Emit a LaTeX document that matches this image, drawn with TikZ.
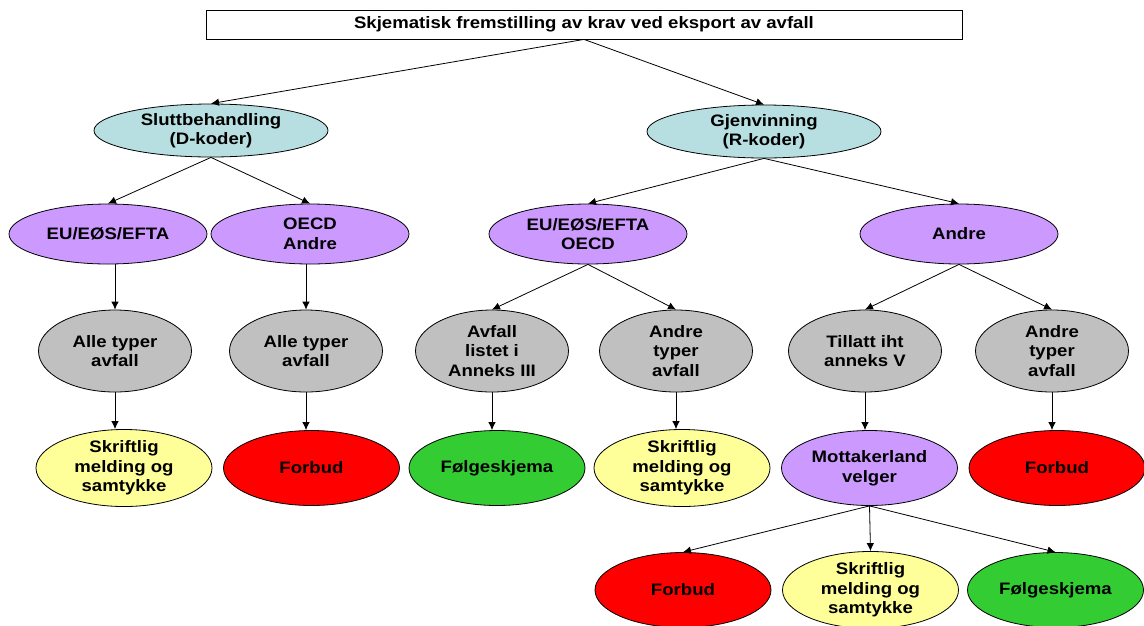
\documentclass[tikz,border=0pt]{standalone}
\usepackage{fontspec}
\setmainfont{Liberation Sans}[FakeStretch=1.12]
\usetikzlibrary{shapes.geometric,arrows.meta}
\definecolor{lblue}{HTML}{B7DFE1}
\definecolor{lpurple}{HTML}{CC99FF}
\definecolor{lgray}{HTML}{C0C0C0}
\definecolor{lyellow}{HTML}{FFFF99}
\definecolor{lred}{HTML}{FF0000}
\definecolor{lgreen}{HTML}{33CC33}
\begin{document}
\begin{tikzpicture}[x=1pt,y=-1pt,
  every node/.style={font=\bfseries\fontsize{16.6}{19.5}\selectfont, align=center, inner sep=0pt},
  ell/.style={ellipse, draw=black, line width=0.8pt},
  lvlA/.style={ell, fill=lblue, minimum width=234pt, minimum height=53pt},
  lvlB/.style={ell, fill=lpurple, minimum width=198pt, minimum height=60pt},
  lvlC/.style={ell, fill=lgray, minimum width=153pt, minimum height=82pt},
  lvlD/.style={ell, minimum width=176pt, minimum height=75pt},
  arr/.style={draw=black, line width=0.8pt, -{Latex[length=8pt,width=7.5pt]}}
]
\useasboundingbox (0,0) rectangle (1144,625);

\node[draw=black, line width=0.8pt, minimum width=756pt, minimum height=29pt] (title) at (584,24.5) {Skjematisk fremstilling av krav ved eksport av avfall};

\node[lvlA] (slutt) at (211,130.5) {Sluttbehandling\\(D-koder)};
\node[lvlA] (gjen) at (764,131.5) {Gjenvinning\\(R-koder)};

\node[lvlB] (eu1) at (108,234) {EU/EØS/EFTA};
\node[lvlB] (oecd1) at (310,234) {OECD\\Andre};
\node[lvlB] (eu2) at (588,234) {EU/EØS/EFTA\\OECD};
\node[lvlB] (andre) at (959,234) {Andre};

\node[lvlC] (alle1) at (115,351) {Alle typer\\avfall};
\node[lvlC] (alle2) at (306,351) {Alle typer\\avfall};
\node[lvlC] (avfall) at (492,351) {Avfall\\listet i\\Anneks III};
\node[lvlC] (andret1) at (676,351) {Andre\\typer\\avfall};
\node[lvlC] (tillatt) at (865,351) {Tillatt iht\\anneks V};
\node[lvlC] (andret2) at (1052,351) {Andre\\typer\\avfall};

\node[lvlD, fill=lyellow] (skr1) at (124,468) {Skriftlig\\melding og\\samtykke};
\node[lvlD, fill=lred] (forb1) at (311.5,468) {Forbud};
\node[lvlD, fill=lgreen] (folg1) at (497,468) {Følgeskjema};
\node[lvlD, fill=lyellow] (skr2) at (682,468) {Skriftlig\\melding og\\samtykke};
\node[lvlD, fill=lpurple] (mott) at (869.5,468) {Mottakerland\\velger};
\node[lvlD, fill=lred] (forb2) at (1057,468) {Forbud};

\node[lvlD, fill=lred] (forb3) at (683,590) {Forbud};
\node[lvlD, fill=lyellow] (skr3) at (870.5,590) {Skriftlig\\melding og\\samtykke};
\node[lvlD, fill=lgreen] (folg2) at (1055.5,590) {Følgeskjema};

\draw[arr] (title.south) -- (slutt.north);
\draw[arr] (title.south) -- (gjen.north);

\draw[arr] (slutt.south) -- (eu1.north);
\draw[arr] (slutt.south) -- (oecd1.north);
\draw[arr] (gjen.south) -- (eu2.north);
\draw[arr] (gjen.south) -- (andre.north);

\draw[arr] (eu1.south -| alle1.north) -- (alle1.north);
\draw[arr] (oecd1.south -| alle2.north) -- (alle2.north);
\draw[arr] (eu2.south) -- (avfall.north);
\draw[arr] (eu2.south) -- (andret1.north);
\draw[arr] (andre.south) -- (tillatt.north);
\draw[arr] (andre.south) -- (andret2.north);

\draw[arr] (alle1.south) -- (alle1.south |- skr1.north);
\draw[arr] (alle2.south) -- (alle2.south |- forb1.north);
\draw[arr] (avfall.south) -- (avfall.south |- folg1.north);
\draw[arr] (andret1.south) -- (andret1.south |- skr2.north);
\draw[arr] (tillatt.south) -- (tillatt.south |- mott.north);
\draw[arr] (andret2.south) -- (andret2.south |- forb2.north);

\draw[arr] (mott.south) -- (forb3.north);
\draw[arr] (mott.south) -- (skr3.north);
\draw[arr] (mott.south) -- (folg2.north);
\end{tikzpicture}
\end{document}
